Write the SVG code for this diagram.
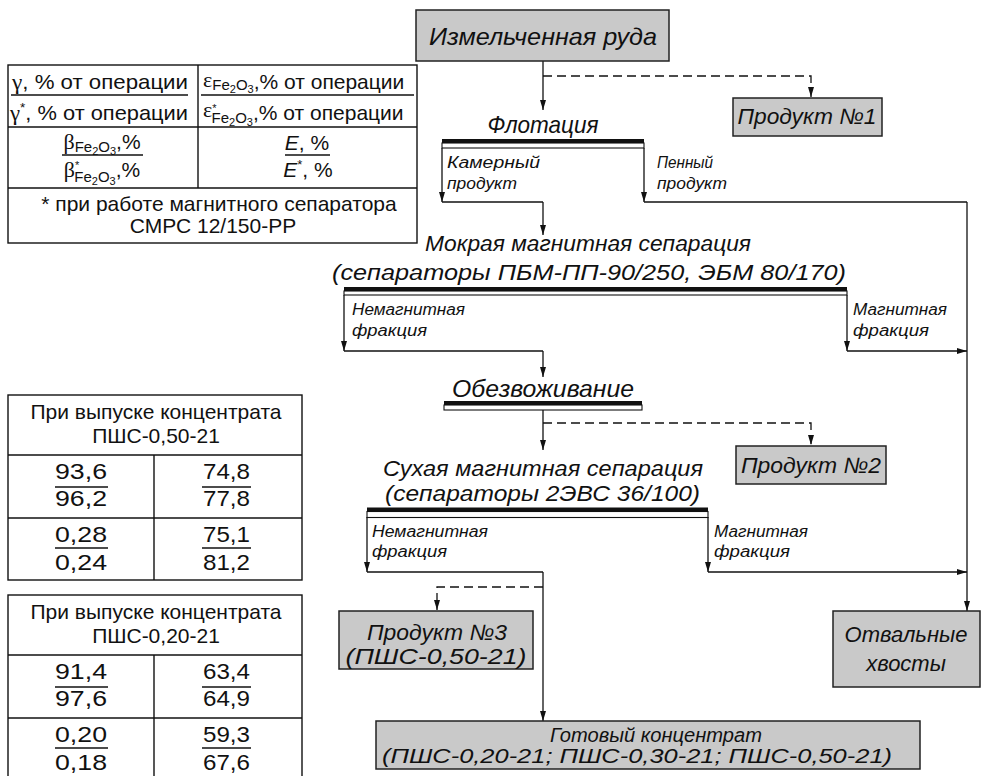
<svg xmlns="http://www.w3.org/2000/svg" width="981" height="776" viewBox="0 0 981 776">
<defs>
<marker id="ah" markerUnits="userSpaceOnUse" markerWidth="10" markerHeight="7" refX="10" refY="3.5" orient="auto">
<path d="M0,0.5 L10,3.5 L0,6.5 z" fill="#111"/>
</marker>
<style>
.bg{fill:#fff}
.box{fill:#c9c9c9;stroke:#222;stroke-width:1.5}
.cell{fill:none;stroke:#111;stroke-width:1.4}
.ln{fill:none;stroke:#111;stroke-width:1.3}
.ar{fill:none;stroke:#111;stroke-width:1.3;marker-end:url(#ah)}
.dar{fill:none;stroke:#111;stroke-width:1.3;stroke-dasharray:9 5;marker-end:url(#ah)}
.thick{fill:#111}
.thin{fill:#fff;stroke:#111;stroke-width:1.1}
.f{font-family:"Liberation Sans",Arial,sans-serif;font-style:italic;fill:#111}
.big{font-size:24px}
.mid{font-size:22px}
.sm{font-size:20px}
.lab{font-size:16px}
.tb{font-family:"Liberation Sans",Arial,sans-serif;font-size:21px;fill:#111}
.num{font-size:22px}
.gr{font-family:"Liberation Serif","Times New Roman",serif;font-size:22px}
.sub{font-size:15px}
.ss{font-size:11px}
.sup{font-size:13px}
</style>
</defs>
<rect class="bg" x="0" y="0" width="981" height="776"/>

<!-- Legend table -->
<g id="legend">
<rect class="cell" x="8" y="65" width="409" height="178"/>
<line class="cell" x1="198" y1="65" x2="198" y2="188"/>
<line class="cell" x1="8" y1="127" x2="417" y2="127"/>
<line class="cell" x1="8" y1="188" x2="417" y2="188"/>
<text class="tb" x="12" y="89" textLength="176" lengthAdjust="spacingAndGlyphs"><tspan class="gr">γ</tspan>, % от операции</text>
<line class="ln" x1="11" y1="95" x2="188" y2="95"/>
<text class="tb" x="10" y="120" textLength="178" lengthAdjust="spacingAndGlyphs"><tspan class="gr">γ</tspan><tspan class="sup" dy="-8">*</tspan><tspan dy="8">, % от операции</tspan></text>
<text class="tb" x="203" y="89"><tspan class="gr" dy="-2">ε</tspan><tspan class="sub" dy="3">Fe</tspan><tspan class="ss" dy="3">2</tspan><tspan class="sub" dy="-3">O</tspan><tspan class="ss" dy="3">3</tspan><tspan dy="-4">,% от операции</tspan></text>
<line class="ln" x1="201" y1="95" x2="414" y2="95"/>
<text class="tb" x="203" y="120"><tspan class="gr" dy="-3">ε</tspan><tspan class="ss" dy="-5">*</tspan><tspan class="sub" dx="-5" dy="11">Fe</tspan><tspan class="ss" dy="3">2</tspan><tspan class="sub" dy="-3">O</tspan><tspan class="ss" dy="3">3</tspan><tspan dy="-6">,% от операции</tspan></text>
<text class="tb" x="102" y="149" text-anchor="middle"><tspan class="gr">β</tspan><tspan class="sub" dy="3">Fe</tspan><tspan class="ss" dy="3">2</tspan><tspan class="sub" dy="-3">O</tspan><tspan class="ss" dy="3">3</tspan><tspan dy="-6">,%</tspan></text>
<line class="ln" x1="62" y1="155" x2="143" y2="155"/>
<text class="tb" x="102" y="177" text-anchor="middle"><tspan class="gr">β</tspan><tspan class="ss" dy="-8">*</tspan><tspan class="sub" dx="-5" dy="13">Fe</tspan><tspan class="ss" dy="3">2</tspan><tspan class="sub" dy="-3">O</tspan><tspan class="ss" dy="3">3</tspan><tspan dy="-8">,%</tspan></text>
<text class="tb" x="307" y="150" text-anchor="middle"><tspan font-style="italic">E</tspan>, %</text>
<line class="ln" x1="285" y1="155" x2="330" y2="155"/>
<text class="tb" x="308" y="177" text-anchor="middle"><tspan font-style="italic">E</tspan><tspan class="sup" dy="-8">*</tspan><tspan dy="8">, %</tspan></text>
<text class="tb" x="219" y="211" text-anchor="middle">* при работе магнитного сепаратора</text>
<text class="tb" x="213" y="233" text-anchor="middle">СМРС 12/150-РР</text>
</g>

<!-- Table ПШС-0,50-21 -->
<g id="table-050">
<rect class="cell" x="8" y="395" width="294" height="185"/>
<line class="cell" x1="8" y1="455" x2="302" y2="455"/>
<line class="cell" x1="8" y1="518" x2="302" y2="518"/>
<line class="cell" x1="154" y1="455" x2="154" y2="580"/>
<text class="tb" x="156" y="419" text-anchor="middle">При выпуске концентрата</text>
<text class="tb" x="156" y="443" text-anchor="middle">ПШС-0,50-21</text>
<text class="tb num" x="55" y="479" textLength="52" lengthAdjust="spacingAndGlyphs">93,6</text>
<line class="ln" x1="55" y1="487" x2="108" y2="487"/>
<text class="tb num" x="55" y="506" textLength="52" lengthAdjust="spacingAndGlyphs">96,2</text>
<text class="tb num" x="203" y="479" textLength="47" lengthAdjust="spacingAndGlyphs">74,8</text>
<line class="ln" x1="202" y1="487" x2="251" y2="487"/>
<text class="tb num" x="203" y="506" textLength="47" lengthAdjust="spacingAndGlyphs">77,8</text>
<text class="tb num" x="55" y="542" textLength="52" lengthAdjust="spacingAndGlyphs">0,28</text>
<line class="ln" x1="55" y1="548" x2="108" y2="548"/>
<text class="tb num" x="55" y="570" textLength="52" lengthAdjust="spacingAndGlyphs">0,24</text>
<text class="tb num" x="203" y="542" textLength="47" lengthAdjust="spacingAndGlyphs">75,1</text>
<line class="ln" x1="202" y1="548" x2="251" y2="548"/>
<text class="tb num" x="203" y="570" textLength="47" lengthAdjust="spacingAndGlyphs">81,2</text>
</g>

<!-- Table ПШС-0,20-21 -->
<g id="table-020">
<rect class="cell" x="8" y="595" width="294" height="190"/>
<line class="cell" x1="8" y1="655" x2="302" y2="655"/>
<line class="cell" x1="8" y1="718" x2="302" y2="718"/>
<line class="cell" x1="154" y1="655" x2="154" y2="785"/>
<text class="tb" x="156" y="619" text-anchor="middle">При выпуске концентрата</text>
<text class="tb" x="156" y="643" text-anchor="middle">ПШС-0,20-21</text>
<text class="tb num" x="55" y="679" textLength="52" lengthAdjust="spacingAndGlyphs">91,4</text>
<line class="ln" x1="55" y1="687" x2="108" y2="687"/>
<text class="tb num" x="55" y="706" textLength="52" lengthAdjust="spacingAndGlyphs">97,6</text>
<text class="tb num" x="203" y="679" textLength="47" lengthAdjust="spacingAndGlyphs">63,4</text>
<line class="ln" x1="202" y1="687" x2="251" y2="687"/>
<text class="tb num" x="203" y="706" textLength="47" lengthAdjust="spacingAndGlyphs">64,9</text>
<text class="tb num" x="55" y="742" textLength="52" lengthAdjust="spacingAndGlyphs">0,20</text>
<line class="ln" x1="55" y1="748" x2="108" y2="748"/>
<text class="tb num" x="55" y="770" textLength="52" lengthAdjust="spacingAndGlyphs">0,18</text>
<text class="tb num" x="203" y="742" textLength="47" lengthAdjust="spacingAndGlyphs">59,3</text>
<line class="ln" x1="202" y1="748" x2="251" y2="748"/>
<text class="tb num" x="203" y="770" textLength="47" lengthAdjust="spacingAndGlyphs">67,6</text>
</g>

<!-- Connectors -->
<g id="connectors">
<path class="ar" d="M543,61 V110"/>
<path class="dar" d="M543,76 H811 V97"/>
<path class="ar" d="M442,148 V202"/>
<path class="ln" d="M442,202 H543"/>
<path class="ar" d="M543,202 V235"/>
<path class="ar" d="M644,148 V202"/>
<path class="ln" d="M644,202 H967"/>
<path class="ar" d="M967,202 V611"/>
<path class="ar" d="M344,295 V351"/>
<path class="ln" d="M344,351 H543"/>
<path class="ar" d="M543,351 V377"/>
<path class="ar" d="M847,295 V351"/>
<path class="ar" d="M847,351 H967"/>
<path class="ar" d="M543,410 V450"/>
<path class="dar" d="M543,423 H811 V445"/>
<path class="ar" d="M367,517 V572"/>
<path class="ln" d="M367,572 H543"/>
<path class="ar" d="M543,572 V721"/>
<path class="dar" d="M543,587 H437 V610"/>
<path class="ar" d="M708,517 V572"/>
<path class="ar" d="M708,572 H967"/>
</g>

<!-- Nodes -->
<g id="ore">
<rect class="box" x="416" y="10" width="253" height="51"/>
<text class="f big" x="543" y="45" text-anchor="middle" textLength="228" lengthAdjust="spacingAndGlyphs">Измельченная руда</text>
</g>
<g id="product1">
<rect class="box" x="733" y="98" width="149" height="38"/>
<text class="f mid" x="807" y="124" text-anchor="middle" textLength="139" lengthAdjust="spacingAndGlyphs">Продукт №1</text>
</g>
<g id="flotation">
<text class="f big" x="543" y="133" text-anchor="middle" textLength="111" lengthAdjust="spacingAndGlyphs">Флотация</text>
<rect class="thick" x="442" y="139" width="202" height="4"/>
<rect class="thin" x="442" y="143" width="202" height="5"/>
<text class="f lab" x="447" y="168" textLength="93" lengthAdjust="spacingAndGlyphs">Камерный</text>
<text class="f lab" x="447" y="189" textLength="70" lengthAdjust="spacingAndGlyphs">продукт</text>
<text class="f lab" x="657" y="168" textLength="56" lengthAdjust="spacingAndGlyphs">Пенный</text>
<text class="f lab" x="657" y="189" textLength="70" lengthAdjust="spacingAndGlyphs">продукт</text>
</g>
<g id="wet-separation">
<text class="f mid" x="425" y="251" textLength="326" lengthAdjust="spacingAndGlyphs">Мокрая магнитная сепарация</text>
<text class="f mid" x="332" y="280" textLength="514" lengthAdjust="spacingAndGlyphs">(сепараторы ПБМ-ПП-90/250, ЭБМ 80/170)</text>
<rect class="thick" x="344" y="287" width="503" height="4"/>
<rect class="thin" x="344" y="291" width="503" height="4"/>
<text class="f lab" x="352" y="315" textLength="113" lengthAdjust="spacingAndGlyphs">Немагнитная</text>
<text class="f lab" x="352" y="336" textLength="75" lengthAdjust="spacingAndGlyphs">фракция</text>
<text class="f lab" x="853" y="315" textLength="94" lengthAdjust="spacingAndGlyphs">Магнитная</text>
<text class="f lab" x="853" y="336" textLength="76" lengthAdjust="spacingAndGlyphs">фракция</text>
</g>
<g id="dewatering">
<text class="f big" x="543" y="397" text-anchor="middle" textLength="182" lengthAdjust="spacingAndGlyphs">Обезвоживание</text>
<rect class="thick" x="444" y="401" width="198" height="4"/>
<rect class="thin" x="444" y="405" width="198" height="5"/>
</g>
<g id="product2">
<rect class="box" x="736" y="446" width="150" height="38"/>
<text class="f mid" x="811" y="473" text-anchor="middle" textLength="140" lengthAdjust="spacingAndGlyphs">Продукт №2</text>
</g>
<g id="dry-separation">
<text class="f mid" x="383" y="476" textLength="320" lengthAdjust="spacingAndGlyphs">Сухая магнитная сепарация</text>
<text class="f mid" x="385" y="501" textLength="315" lengthAdjust="spacingAndGlyphs">(сепараторы 2ЭВС 36/100)</text>
<rect class="thick" x="367" y="507.5" width="341" height="4"/>
<rect class="thin" x="367" y="511.5" width="341" height="6"/>
<text class="f lab" x="372" y="537" textLength="116" lengthAdjust="spacingAndGlyphs">Немагнитная</text>
<text class="f lab" x="372" y="557" textLength="75" lengthAdjust="spacingAndGlyphs">фракция</text>
<text class="f lab" x="714" y="537" textLength="94" lengthAdjust="spacingAndGlyphs">Магнитная</text>
<text class="f lab" x="714" y="557" textLength="76" lengthAdjust="spacingAndGlyphs">фракция</text>
</g>
<g id="product3">
<rect class="box" x="339" y="611" width="194" height="58"/>
<text class="f mid" x="437" y="640" text-anchor="middle" textLength="140" lengthAdjust="spacingAndGlyphs">Продукт №3</text>
<text class="f mid" x="436" y="664" text-anchor="middle" textLength="181" lengthAdjust="spacingAndGlyphs">(ПШС-0,50-21)</text>
</g>
<g id="tailings">
<rect class="box" x="833" y="611" width="147" height="76"/>
<text class="f mid" x="906" y="642" text-anchor="middle">Отвальные</text>
<text class="f mid" x="906" y="671" text-anchor="middle">хвосты</text>
</g>
<g id="concentrate">
<rect class="box" x="376" y="721" width="544" height="48"/>
<text class="f sm" x="656" y="742" text-anchor="middle" textLength="212" lengthAdjust="spacingAndGlyphs">Готовый концентрат</text>
<text class="f sm" x="637" y="763" text-anchor="middle" textLength="510" lengthAdjust="spacingAndGlyphs">(ПШС-0,20-21; ПШС-0,30-21; ПШС-0,50-21)</text>
</g>
</svg>
